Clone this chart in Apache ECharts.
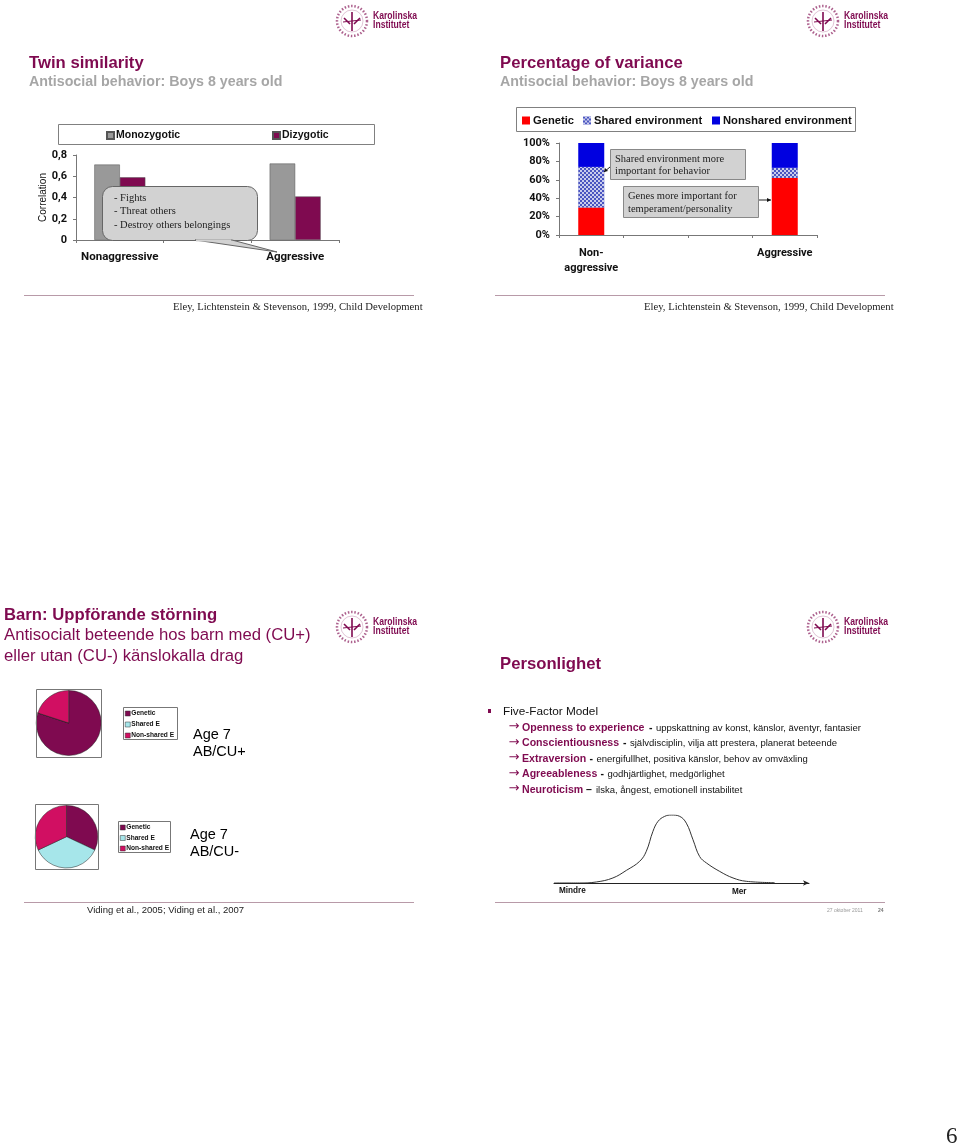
<!DOCTYPE html>
<html><head><meta charset="utf-8">
<style>html,body{margin:0;padding:0;background:#fff}#c{width:960px;height:1146px}</style>
<script src="https://cdn.jsdelivr.net/npm/echarts@6/dist/echarts.min.js"></script>
</head><body><div id="c"></div>
<script>
const MAROON='#7f0a50', GREY='#999999', PINK='#d10f62', AQUA='#a6e6ea';
const twinCats=['Nonaggressive','','Aggressive'];
const mono=[0.71,null,0.72];
const dizy=[0.59,null,0.41];
const varCats=['Non-\naggressive','','','Aggressive'];
const genetic=[30,null,null,62];
const sharedEnv=[44,null,null,11];
const nonshared=[26,null,null,27];
const pieNames=['Genetic','Shared E','Non-shared E'];
const pieCUplus=[80,0,20];
const pieCUminus=[32,36,32];
const bellX=[0,10,16.6,23.1,28.4,33.6,36.2,38.8,40.8,43.4,46,49.3,51.9,54.5,57.1,59.8,65,70.2,75.4,86.5];
const bellY=[0,0,1.5,7.4,18.6,31.9,46.6,76,90.7,98,100,98,88,63.7,39,29.4,17,7.4,2.5,0.5];
const SANS='"Liberation Sans",Arial,sans-serif', AXISF='Roboto,"Liberation Sans",sans-serif', SERIF='"Liberation Serif",serif';

const txt=(x,y,text,size,color,weight,family,extra)=>Object.assign({type:'text',z:50,x,y,style:{text,fontSize:size,fill:color||'#000',fontWeight:weight||'normal',fontFamily:family||SANS,verticalAlign:'middle'}},extra||{});
const box=(x,y,w,h,fill,stroke,r)=>({type:'rect',z:40,shape:{x,y,width:w,height:h,r:r||0},style:{fill:fill||'none',stroke:stroke||'#7f7f7f',lineWidth:1}});
const ln=(x1,y1,x2,y2,c,w)=>({type:'line',z:45,shape:{x1,y1,x2,y2},style:{stroke:c,lineWidth:w||1}});
function logo(cx,cy){
  const tx=cx+21, out=[];
  out.push({type:'circle',z:40,shape:{cx,cy,r:15},style:{fill:'none',stroke:MAROON,lineWidth:2.5,lineDash:[1.5,1.8],opacity:.65}});
  out.push({type:'circle',z:40,shape:{cx,cy,r:11},style:{fill:'none',stroke:MAROON,lineWidth:.6,opacity:.4}});
  out.push(ln(cx,cy-9,cx,cy+10,MAROON,1.6));
  out.push(ln(cx-8,cy-3,cx-2,cy+3,MAROON,1.6));
  out.push(ln(cx+8,cy-3,cx+2,cy+3,MAROON,1.6));
  out.push(ln(cx-9,cy+1,cx+9,cy-1,MAROON,1));
  out.push(txt(tx,cy-5,'Karolinska',10.5,MAROON,'bold',SANS,{scaleX:.82}));
  out.push(txt(tx,cy+4,'Institutet',10.5,MAROON,'bold',SANS,{scaleX:.82}));
  return out;
}
const graphics=[
  ...logo(352,21),...logo(823,21),...logo(352,627),...logo(823,627),
  txt(29,63,'Twin similarity',16.7,MAROON,'bold'),
  txt(29,82,'Antisocial behavior: Boys 8 years old',14.25,'#a6a6a6','bold'),
  txt(500,63,'Percentage of variance',16.7,MAROON,'bold'),
  txt(500,82,'Antisocial behavior: Boys 8 years old',14.25,'#a6a6a6','bold'),
  box(58.5,124.5,316,20,'none','#808080'),
  box(516.5,107.5,339,24,'none','#808080'),
  ln(24,295.5,414,295.5,'#b89aa8'),ln(495,295.5,885,295.5,'#b89aa8'),
  ln(24,902.5,414,902.5,'#b89aa8'),ln(495,902.5,885,902.5,'#b89aa8'),
  txt(173,307,'Eley, Lichtenstein & Stevenson, 1999, Child Development',10.65,'#222','normal',SERIF),
  txt(644,307,'Eley, Lichtenstein & Stevenson, 1999, Child Development',10.65,'#222','normal',SERIF),
  // callout
  {type:'polygon',z:41,shape:{points:[[195,240],[277,252],[232,240]]},style:{fill:'#d2d2d2',stroke:'#666',lineWidth:1}},
  box(102.5,186.5,155,54,'#d2d2d2','#666',10),
  {type:'line',z:42,shape:{x1:196,y1:240.5,x2:231,y2:240.5},style:{stroke:'#d2d2d2',lineWidth:2}},
  txt(114,198.5,'- Fights',10.5,'#222','normal',SERIF),
  txt(114,211.5,'- Threat others',10.5,'#222','normal',SERIF),
  txt(114,225,'- Destroy others belongings',10.5,'#222','normal',SERIF),
  // notes on variance chart
  box(610.5,149.5,135,30,'#d2d2d2','#888'),
  box(623.5,186.5,135,31,'#d2d2d2','#888'),
  txt(615,159,'Shared environment more',10.5,'#222','normal',SERIF),
  txt(615,171.5,'important for behavior',10.5,'#222','normal',SERIF),
  txt(628,196,'Genes more important for',10.5,'#222','normal',SERIF),
  txt(628,209,'temperament/personality',10.5,'#222','normal',SERIF),
  ln(610,167,604,172,'#222'),ln(759,200,771,200,'#222'),
  {type:'polygon',z:46,shape:{points:[[771,200],[767,198],[767,202]]},style:{fill:'#111'}},
  {type:'polygon',z:46,shape:{points:[[604,172],[605,168],[608,171]]},style:{fill:'#111'}},
  // slide 3
  txt(4,615.5,'Barn: Uppförande störning',16.7,MAROON,'bold'),
  txt(4,635.5,'Antisocialt beteende hos barn med (CU+)',16.7,MAROON),
  txt(4,656,'eller utan (CU-) känslokalla drag',16.7,MAROON),
  box(36.5,689.5,65,68,'none','#777'),
  box(35.5,804.5,63,65,'none','#777'),
  box(123.5,707.5,54,32,'none','#777'),
  box(118.5,821.5,52,31,'none','#777'),
  txt(193,735,'Age 7',14.5,'#000'),txt(193,752,'AB/CU+',14.5,'#000'),
  txt(190,835,'Age 7',14.5,'#000'),txt(190,852,'AB/CU-',14.5,'#000'),
  txt(87,910.5,'Viding et al., 2005; Viding et al., 2007',9.5,'#222'),
  // slide 4
  txt(500,664,'Personlighet',16.7,MAROON,'bold'),
  {type:'rect',z:46,shape:{x:488,y:709,width:3,height:4},style:{fill:MAROON}},
  txt(503,711.5,'Five-Factor Model',11.8,'#111'),
  ...[
    [728,'Openness to experience','-','uppskattning av konst, känslor, äventyr, fantasier',656,649],
    [743.5,'Conscientiousness','-','självdisciplin, vilja att prestera, planerat beteende',630,623],
    [759,'Extraversion','-','energifullhet, positiva känslor, behov av omväxling',596.5,589.5],
    [774.5,'Agreeableness','-','godhjärtlighet, medgörlighet',607.5,600.5],
    [790,'Neuroticism','–','ilska, ångest, emotionell instabilitet',596,586]
  ].flatMap(([y,a,sep,b,bx,sx])=>[
    txt(508.5,y-1,'→',13,MAROON,'normal','"DejaVu Sans"'),
    txt(522,y,a,10.6,MAROON,'bold'),
    txt(sx,y,sep,10.5,'#111','bold'),
    txt(bx,y,b,9.5,'#111')
  ]),
  txt(559,891,'Mindre',8.2,'#111','bold'),
  txt(732,891.5,'Mer',8.2,'#111','bold'),
  txt(827,911,'27 oktober 2011',5,'#999'),
  txt(878,911,'24',5,'#777','bold'),
  txt(946,1137,'6',23,'#222','normal',SERIF)
];
const catAxis=(grid,data,extra)=>Object.assign({type:'category',gridIndex:grid,data,axisTick:{show:true,alignWithLabel:false,length:3,lineStyle:{color:'#777'}},axisLine:{lineStyle:{color:'#777'}}},extra||{});
const valAxis=(grid,min,max,interval,fmt,extra)=>Object.assign({type:'value',gridIndex:grid,min,max,interval,splitLine:{show:false},axisLine:{show:true,lineStyle:{color:'#777'}},axisTick:{show:true,length:3,lineStyle:{color:'#777'}},axisLabel:{formatter:fmt,color:'#111',fontFamily:AXISF,fontWeight:'bold',fontSize:11,margin:9}},extra||{});
const mkLegend=(left,top,data,size,gap,orient,font,pad)=>({left,top,orient:orient||'horizontal',data,selectedMode:false,icon:'rect',itemWidth:size,itemHeight:size,itemGap:gap,padding:0,textStyle:{fontSize:font,fontWeight:'bold',fontFamily:SANS,color:'#111',padding:[0,0,0,pad]}});
const pieLegendData=[
 {name:'Genetic',itemStyle:{color:MAROON,borderColor:'#333',borderWidth:.5,decal:'none'}},
 {name:'Shared E',itemStyle:{color:AQUA,borderColor:'#333',borderWidth:.5,decal:'none'}},
 {name:'Non-shared E',itemStyle:{color:PINK,borderColor:'#333',borderWidth:.5,decal:'none'}}];
const option={
 backgroundColor:'#fff',animation:false,
 graphic:graphics,
 grid:[
  {left:76,width:263,top:155,height:85},
  {left:559,width:258,top:143,height:92},
  {left:554,width:255,top:815,height:68}
 ],
 xAxis:[
  catAxis(0,twinCats,{axisLabel:{interval:0,color:'#111',fontFamily:AXISF,fontWeight:'bold',fontSize:11.5,margin:11}}),
  catAxis(1,varCats,{axisLabel:{interval:0,color:'#111',fontFamily:AXISF,fontWeight:'bold',fontSize:11,margin:11,lineHeight:14.5}}),
  {type:'value',gridIndex:2,min:0,max:100,show:true,axisLine:{onZero:false,symbol:['none','arrow'],symbolSize:[4,6],lineStyle:{color:'#222',width:1}},axisTick:{show:false},axisLabel:{show:false},splitLine:{show:false}}
 ],
 yAxis:[
  valAxis(0,0,0.8,0.2,v=>v===0?'0':v.toFixed(1).replace('.',','),{name:'Correlation',nameLocation:'middle',nameGap:28,nameTextStyle:{fontSize:10,fontFamily:SANS,color:'#111',fontWeight:'normal'}}),
  valAxis(1,0,100,20,'{value}%'),
  {type:'value',gridIndex:2,min:0,max:100,show:false}
 ],
 legend:[
  mkLegend(106,130,[{name:'Monozygotic'}],7,0,null,10.5,-3),
  mkLegend(272,130,[{name:'Dizygotic'}],7,0,null,10.5,-3),
  mkLegend(522,115,[{name:'Genetic',itemStyle:{color:'#ff0000'}}],8,0,null,11.2,-2),
  mkLegend(583,115,[{name:'Shared environment',itemStyle:{color:'#4a55c0'}}],8,0,null,11.2,-2),
  mkLegend(712,115,[{name:'Nonshared environment',itemStyle:{color:'#0000e0'}}],8,0,null,11.2,-2),
  mkLegend(125,710,pieLegendData,5,4,'vertical',6.6,-4),
  mkLegend(120,824,pieLegendData,5,3.5,'vertical',6.6,-4)
 ],
 series:[
  {name:'Monozygotic',type:'bar',xAxisIndex:0,yAxisIndex:0,data:mono,barWidth:25.5,barGap:0,itemStyle:{color:GREY,borderColor:'#555',borderWidth:.5}},
  {name:'Dizygotic',type:'bar',xAxisIndex:0,yAxisIndex:0,data:dizy,barWidth:25.5,barGap:0,itemStyle:{color:MAROON,borderColor:'#555',borderWidth:.5}},
  {name:'Genetic',type:'bar',stack:'v',xAxisIndex:1,yAxisIndex:1,data:genetic,barWidth:26,itemStyle:{color:'#ff0000'}},
  {name:'Shared environment',type:'bar',stack:'v',xAxisIndex:1,yAxisIndex:1,data:sharedEnv,barWidth:26,itemStyle:{color:'#4a55c0',decal:{symbol:'rect',symbolSize:1,color:'rgba(255,255,255,0.7)',dashArrayX:[[2,2],[0,2,2,0]],dashArrayY:[2,0],rotation:0}}},
  {name:'Nonshared environment',type:'bar',stack:'v',xAxisIndex:1,yAxisIndex:1,data:nonshared,barWidth:26,itemStyle:{color:'#0000e0'}},
  {name:'Age 7 AB/CU+',type:'pie',center:[68.7,723],radius:[0,32.5],startAngle:90,clockwise:true,label:{show:false},labelLine:{show:false},itemStyle:{borderColor:'#222',borderWidth:.5},
   data:pieNames.map((n,i)=>({name:n,value:pieCUplus[i],itemStyle:{color:[MAROON,AQUA,PINK][i]}}))},
  {name:'Age 7 AB/CU-',type:'pie',center:[66.5,836.7],radius:[0,31.3],startAngle:90,clockwise:true,label:{show:false},labelLine:{show:false},itemStyle:{borderColor:'#222',borderWidth:.5},
   data:pieNames.map((n,i)=>({name:n,value:pieCUminus[i],itemStyle:{color:[MAROON,AQUA,PINK][i]}}))},
  {name:'Personality',type:'line',xAxisIndex:2,yAxisIndex:2,smooth:0.4,symbol:'none',lineStyle:{color:'#333',width:1},data:bellX.map((x,i)=>[x,bellY[i]])}
 ]
};
echarts.init(document.getElementById('c'),null,{renderer:'canvas'}).setOption(option);
</script></body></html>
